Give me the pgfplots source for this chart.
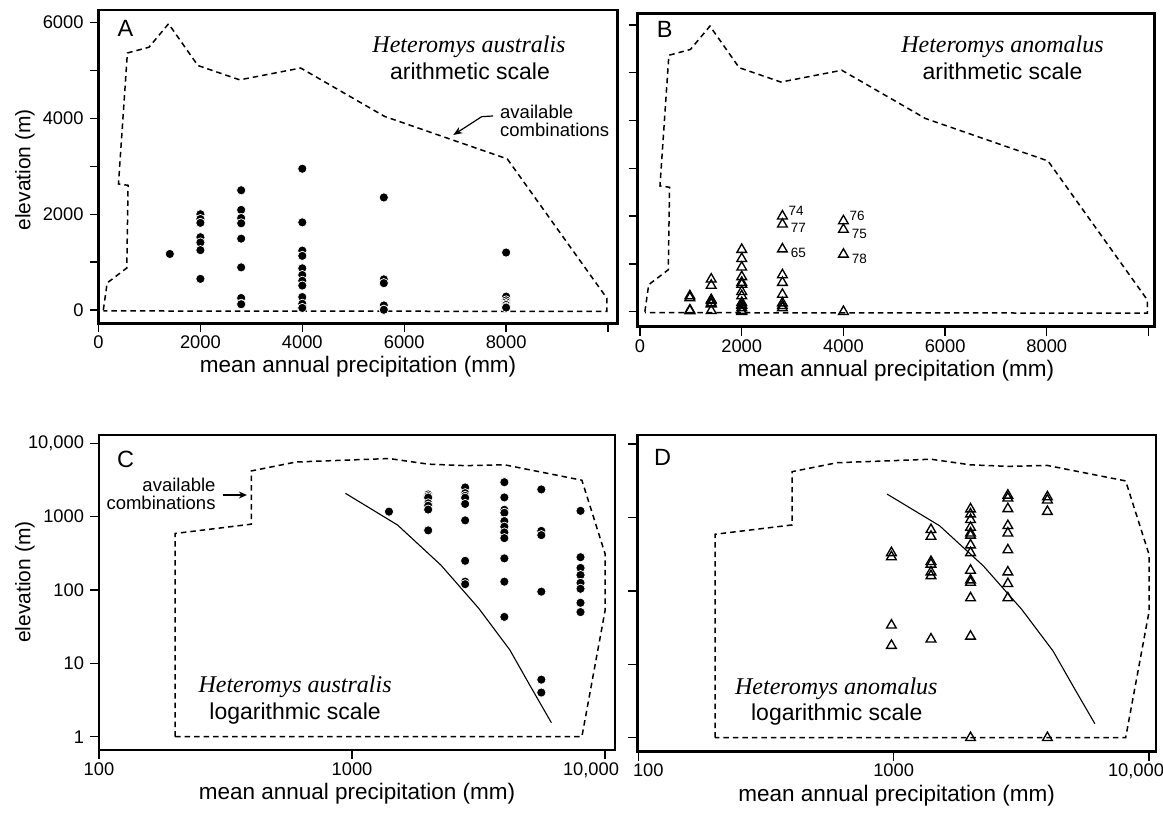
\documentclass[border=0pt]{standalone}
\usepackage{fontspec}
\setmainfont{Liberation Sans}
\newfontfamily\serifit{Liberation Serif}
\usepackage{pgfplots}
\usepackage{pgfplotstable}
\pgfplotsset{compat=1.18}
\usetikzlibrary{arrows.meta}

% Heteromys australis (panels A, C)
\pgfplotstableread{
x y
1400 1170
2000 2000
2000 1900
2000 1820
2000 1520
2000 1410
2000 1250
2000 650
2800 2500
2800 2090
2800 1920
2800 1810
2800 1490
2800 890
2800 250
2800 130
2800 120
4000 2950
4000 1830
4000 1240
4000 1130
4000 870
4000 730
4000 610
4000 510
4000 270
4000 130
4000 43
5600 2350
5600 640
5600 560
5600 95
5600 6
5600 4
8000 1200
8000 280
8000 200
8000 160
8000 125
8000 104
8000 67
8000 50
}\australis

% Heteromys anomalus (panels B, D)
\pgfplotstableread{
x y
980 330
980 290
980 34
980 18
1400 680
1400 550
1400 250
1400 230
1400 180
1400 160
1400 22
2000 1300
2000 1110
2000 930
2000 730
2000 610
2000 570
2000 420
2000 330
2000 190
2000 140
2000 130
2000 80
2000 24
2000 1
2800 2000
2800 1830
2800 1310
2800 770
2800 610
2800 360
2800 180
2800 125
2800 80
4000 1900
4000 1720
4000 1200
4000 1
}\anomalus

\pgfplotstableread{
x y label
2800 2000 74
4000 1900 76
}\labup
\pgfplotstableread{
x y label
2800 1830 77
2800 1310 65
4000 1720 75
4000 1200 78
}\labdown

% available combinations, arithmetic panels
\pgfplotstableread{
x y
95 0
170 565
556 878
580 2604
392 2632
567 5367
991 5488
1375 5977
1950 5106
2771 4806
3968 5053
5614 4043
8023 3155
9977 247
9977 -30
95 -20
}\envA

% available combinations, log panels
\pgfplotstableread{
x y
200 1
200 590
400 790
400 4200
600 5560
1400 6200
2000 5200
2800 4960
4000 5100
8100 3140
10000 313
10000 52
8100 1
200 1
}\envL

\pgfplotstableread{
x y
942 2080
1513 770
2244 219
3172 56
4207 15.2
5083 4.8
6138 1.55
}\curveL

\pgfplotsset{
  panel/.style={
    scale only axis, anchor=south west, clip=false,
    scaled x ticks=false, scaled y ticks=false,
    axis line style={line width=2.8pt},
    tick align=outside, major tick length=9pt,
    every tick/.style={line width=1.3pt, black},
    xtick pos=bottom, ytick pos=left,
    tick label style={font=\fontsize{18.3}{20}\selectfont},
    yticklabel style={xshift=-2.5pt},
    xlabel={mean annual precipitation (mm)},
    xlabel style={font=\fontsize{22.5}{26}\selectfont, at={(axis description cs:0.5,0)}, anchor=center, yshift=-43.5pt},
    ylabel style={font=\fontsize{21}{24}\selectfont, anchor=center},
  },
  arith/.style={
    xtick={0,2000,4000,6000,8000,10000},
    xticklabels={0,2000,4000,6000,8000,{}},
    ytick={0,1000,2000,3000,4000,5000,6000},
  },
  logticks/.style={
    xtick={100,1000,10000},
    ytick={1,10,100,1000,10000},
    xminorticks=false, yminorticks=false,
  },
  env/.style={black, line width=1.5pt, dash pattern=on 5.5pt off 4pt},
  dot/.style={only marks, mark=*, mark size=4.6pt, mark options={fill=black, draw=white, line width=0.7pt}},
  tri/.style={only marks, mark=triangle, mark size=5.6pt, mark options={fill=white, draw=black, line width=1.35pt}},
}

\newcommand\letterfont{\fontsize{23.5}{26}\selectfont}
\newcommand\namefont{\serifit\itshape\fontsize{24}{26}\selectfont}
\newcommand\scalefont{\fontsize{23}{26}\selectfont}
\newcommand\notefont{\fontsize{18.5}{18}\selectfont}

\begin{document}
\begin{tikzpicture}[x=1pt,y=1pt]
\useasboundingbox (0,0) rectangle (1163,820);

% A
\begin{axis}[panel, arith, at={(98.5pt,496.7pt)}, width=519.2pt, height=313.3pt,
  xmin=0, xmax=10190, ymin=-278, ymax=6265,
  yticklabels={0,{},2000,{},4000,{},6000},
  ylabel={elevation (m)}, ylabel style={at={(axis description cs:-0.1416,0.49)}}]
\addplot[env] table {\envA};
\addplot[dot] table {\australis};
\node[font=\letterfont] at (rel axis cs:0.052,0.941) {A};
\node[font=\namefont] at (rel axis cs:0.7136,0.883) {Heteromys australis};
\node[font=\scalefont] at (rel axis cs:0.7155,0.803) {arithmetic scale};
\node[font=\notefont, anchor=west, inner sep=0pt] at (rel axis cs:0.7733,0.6735) {available};
\node[font=\notefont, anchor=west, inner sep=0pt] at (rel axis cs:0.7733,0.617) {combinations};
\draw[line width=1.2pt, -{Stealth[length=9pt,width=7pt]}] (axis cs:7743,4052) -- (axis cs:7521,4037) -- (axis cs:6964,3655);
\end{axis}

% B
\begin{axis}[panel, arith, at={(637.5pt,493.3pt)}, width=517pt, height=313.4pt,
  xmin=-50, xmax=10118, ymin=-314, ymax=6245,
  yticklabels={}]
\addplot[env] table {\envA};
\addplot[tri] table {\anomalus};
\addplot[only marks, mark=none, nodes near coords, point meta=explicit symbolic,
  nodes near coords style={anchor=west, font=\fontsize{13.5}{15}\selectfont, inner sep=0pt, xshift=6pt, yshift=5.5pt}]
  table[meta=label] {\labup};
\addplot[only marks, mark=none, nodes near coords, point meta=explicit symbolic,
  nodes near coords style={anchor=west, font=\fontsize{13.5}{15}\selectfont, inner sep=0pt, xshift=8.2pt, yshift=-4pt}]
  table[meta=label] {\labdown};
\node[font=\letterfont] at (rel axis cs:0.0526,0.95) {B};
\node[font=\namefont] at (rel axis cs:0.706,0.8934) {Heteromys anomalus};
\node[font=\scalefont] at (rel axis cs:0.706,0.8137) {arithmetic scale};
\end{axis}

% C
\begin{loglogaxis}[panel, logticks, at={(99pt,70pt)}, width=516pt, height=315pt,
  xmin=100, xmax=10950, ymin=0.659, ymax=12980,
  xticklabels={100,1000,{\hspace*{-28pt}10,000}},
  yticklabels={1,10,100,1000,{10,000}},
  ylabel={elevation (m)}, ylabel style={at={(axis description cs:-0.1434,0.533)}}]
\addplot[env] table {\envL};
\addplot[black, line width=1.1pt] table {\curveL};
\addplot[dot] table {\australis};
\node[font=\letterfont] at (rel axis cs:0.0517,0.9238) {C};
\node[font=\namefont] at (rel axis cs:0.38,0.201) {Heteromys australis};
\node[font=\scalefont] at (rel axis cs:0.38,0.1165) {logarithmic scale};
\node[font=\notefont, anchor=east, inner sep=0pt] at (rel axis cs:0.2262,0.8413) {available};
\node[font=\notefont, anchor=east, inner sep=0pt] at (rel axis cs:0.2262,0.7832) {combinations};
\draw[line width=1.2pt, -{Stealth[length=8pt,width=7pt]}] (rel axis cs:0.2409,0.8095) -- (rel axis cs:0.2866,0.8095);
\end{loglogaxis}

% D
\begin{loglogaxis}[panel, logticks, at={(637.3pt,68.3pt)}, width=518.7pt, height=316.7pt,
  xmin=99.1, xmax=10651, ymin=0.645, ymax=13263,
  xticklabels={{\hspace*{20pt}100},1000,{\hspace*{-26pt}10,000}},
  yticklabels={}]
\addplot[env] table {\envL};
\addplot[black, line width=1.1pt] table {\curveL};
\addplot[tri] table {\anomalus};
\node[font=\letterfont] at (rel axis cs:0.0486,0.929) {D};
\node[font=\namefont] at (rel axis cs:0.3837,0.2002) {Heteromys anomalus};
\node[font=\scalefont] at (rel axis cs:0.3845,0.1159) {logarithmic scale};
\end{loglogaxis}
\end{tikzpicture}
\end{document}
